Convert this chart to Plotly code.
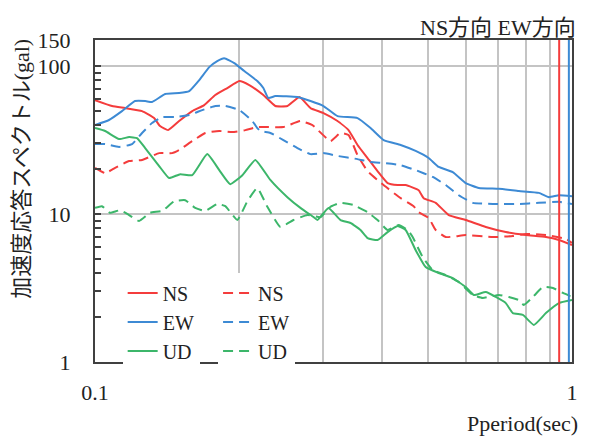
import math
import plotly.graph_objects as go

# ---------------- data ----------------
ns_period = [0.100, 0.1086, 0.1156, 0.1255, 0.1330, 0.1369, 0.1423, 0.1501, 0.1599, 0.1694,
             0.1787, 0.1894, 0.2007, 0.2106, 0.2254, 0.2388, 0.2531, 0.2683, 0.2830, 0.3013,
             0.3224, 0.3400, 0.3551, 0.3727, 0.3911, 0.4106, 0.4310, 0.4480, 0.4770, 0.4887,
             0.5179, 0.5515, 0.5989, 0.6596, 0.7265, 0.8004, 0.8817, 0.9391, 1.0]
ns_solid = [58.9, 53.7, 52.0, 49.6, 44.5, 39.3, 36.9, 42.5, 49.6, 54.5,
            63.7, 71.0, 79.2, 74.4, 63.7, 53.7, 53.7, 61.7, 52.0, 48.1,
            42.5, 36.9, 29.3, 23.9, 19.5, 16.2, 15.7, 15.7, 14.5, 12.8,
            11.9, 9.84, 9.11, 8.17, 7.55, 7.21, 6.99, 6.67, 6.17]

nsd_period = [0.100, 0.1050, 0.1102, 0.1179, 0.1255, 0.1363, 0.1451, 0.1501, 0.1599, 0.1703,
              0.1822, 0.1940, 0.2066, 0.2189, 0.2483, 0.2696, 0.2857, 0.3117, 0.3271, 0.3400,
              0.3551, 0.3727, 0.4027, 0.4373, 0.4656, 0.4770, 0.5006, 0.5179, 0.5436, 0.5989,
              0.6823, 0.7516, 0.8004, 0.8817, 0.9714, 1.0]
ns_dashed = [20.5, 18.9, 20.5, 22.8, 23.2, 25.8, 25.8, 27.1, 31.1, 35.3,
             36.4, 35.8, 36.9, 38.7, 38.7, 42.5, 39.9, 31.1, 35.3, 34.2,
             25.0, 19.5, 15.7, 12.8, 11.3, 10.3, 9.40, 7.80, 6.99, 7.21,
             6.99, 7.10, 7.33, 7.21, 6.78, 6.37]

ew_period = [0.100, 0.1070, 0.1139, 0.1213, 0.1274, 0.1317, 0.1403, 0.1501, 0.1576, 0.1654,
             0.1736, 0.1804, 0.1866, 0.1959, 0.2056, 0.2189, 0.2254, 0.2309, 0.2388, 0.2657,
             0.2830, 0.3013, 0.3224, 0.3551, 0.3782, 0.4027, 0.4373, 0.4701, 0.5006, 0.5255,
             0.5623, 0.5989, 0.6377, 0.7024, 0.7738, 0.8523, 0.8946, 0.9391, 1.0]
ew_solid = [39.9, 43.2, 49.6, 58.0, 58.0, 57.1, 64.7, 65.7, 67.8, 80.4,
            98.4, 108.1, 113.0, 104.8, 92.5, 79.2, 71.0, 60.8, 62.7, 61.7,
            58.0, 53.7, 45.9, 44.5, 38.1, 31.6, 29.3, 26.7, 23.9, 20.8,
            19.2, 16.2, 15.0, 14.8, 14.3, 13.9, 13.0, 13.4, 13.2]

ewd_period = [0.100, 0.1050, 0.1123, 0.1196, 0.1255, 0.1317, 0.1383, 0.1473, 0.1576, 0.1678,
              0.1787, 0.1876, 0.2007, 0.2137, 0.2189, 0.2222, 0.2331, 0.2483, 0.2657, 0.2830,
              0.3013, 0.3224, 0.3551, 0.3782, 0.4027, 0.4373, 0.4701, 0.5105, 0.5436, 0.5789,
              0.6194, 0.6823, 0.7738, 0.8523, 0.9391, 1.0]
ew_dashed = [29.7, 29.7, 28.4, 29.7, 35.3, 41.2, 45.2, 45.2, 46.7, 50.4,
             53.7, 53.7, 50.4, 42.5, 38.1, 36.4, 35.3, 31.6, 27.9, 25.4,
             25.8, 24.7, 23.5, 22.5, 22.1, 21.4, 19.8, 17.8, 15.7, 13.4,
             11.9, 11.7, 11.7, 11.9, 12.1, 11.7]

ud_period = [0.100, 0.1050, 0.1123, 0.1179, 0.1225, 0.1274, 0.1363, 0.1430, 0.1509, 0.1599,
             0.1719, 0.1822, 0.1921, 0.2037, 0.2168, 0.2331, 0.2531, 0.2696, 0.2871, 0.2927,
             0.3087, 0.3271, 0.3434, 0.3603, 0.3727, 0.3911, 0.4106, 0.4310, 0.4480, 0.4701,
             0.4934, 0.5255, 0.5623, 0.5989, 0.6224, 0.6596, 0.6922, 0.7265, 0.7516, 0.7889,
             0.8320, 0.8817, 0.9391, 1.0]
ud_solid = [38.1, 36.4, 32.1, 33.1, 32.6, 27.9, 21.1, 17.5, 18.6, 18.3,
            25.4, 19.8, 15.9, 18.3, 23.2, 17.0, 13.0, 11.0, 9.54, 9.11,
            11.0, 9.11, 8.70, 7.80, 6.88, 6.67, 7.55, 8.30, 7.80, 5.71,
            4.38, 3.99, 3.69, 3.21, 2.84, 2.97, 2.75, 2.50, 2.14, 2.08,
            1.78, 2.14, 2.50, 2.62]

udd_period = [0.100, 0.1034, 0.1075, 0.1128, 0.1179, 0.1237, 0.1305, 0.1383, 0.1466, 0.1546,
              0.1622, 0.1703, 0.1804, 0.1876, 0.1988, 0.2086, 0.2189, 0.2298, 0.2447, 0.2606,
              0.2789, 0.2970, 0.3117, 0.3271, 0.3483, 0.3727, 0.3911, 0.4106, 0.4331, 0.4524,
              0.4634, 0.4864, 0.5105, 0.5436, 0.5789, 0.6194, 0.6501, 0.7024, 0.7371, 0.7738,
              0.7927, 0.8280, 0.8690, 0.9122, 0.9575, 1.0]
ud_dashed = [11.0, 11.3, 10.2, 10.6, 9.84, 8.97, 10.2, 10.5, 12.2, 12.4,
             11.0, 10.5, 11.7, 11.3, 9.11, 12.2, 15.0, 11.2, 8.17, 9.11,
             9.84, 9.54, 11.2, 11.9, 11.5, 10.3, 9.11, 7.80, 8.43, 7.80,
             6.99, 5.12, 4.18, 3.87, 3.47, 2.84, 2.71, 2.84, 2.75, 2.62,
             2.43, 2.75, 3.21, 3.16, 2.93, 2.75]

ns_line_period = 0.94   # NS方向 marker period
ew_line_period = 0.985  # EW方向 marker period

x_tickvals = [0.1, 0.2, 0.3, 0.4, 0.5, 0.6, 0.7, 0.8, 0.9, 1.0]
x_ticktext = ["0.1", "", "", "", "", "", "", "", "", "1"]
y_tickvals = [1, 10, 100, 150]
y_ticktext = ["1", "10", "100", "150"]
y_minor = [2, 3, 4, 5, 6, 7, 8, 9, 20, 30, 40, 50, 60, 70, 80, 90]

RED = "#f43c3c"
BLUE = "#3d8ad4"
GREEN = "#3cb66a"
FONT = "Liberation Serif, Noto Sans CJK JP, serif"
DASH = "10px,6px"

fig = go.Figure()

series = [
    (ns_period, ns_solid, "NS", RED, "solid", "legend"),
    (ew_period, ew_solid, "EW", BLUE, "solid", "legend"),
    (ud_period, ud_solid, "UD", GREEN, "solid", "legend"),
    (nsd_period, ns_dashed, "NS", RED, DASH, "legend2"),
    (ewd_period, ew_dashed, "EW", BLUE, DASH, "legend2"),
    (udd_period, ud_dashed, "UD", GREEN, DASH, "legend2"),
]
for xs, ys, name, col, dash, leg in series:
    fig.add_trace(go.Scatter(x=xs, y=ys, name=name, mode="lines",
                             line=dict(color=col, width=2, dash=dash, shape="spline", smoothing=0.4),
                             legend=leg))

# vertical marker lines
fig.add_trace(go.Scatter(x=[ns_line_period, ns_line_period], y=[1, 150], mode="lines",
                         line=dict(color=RED, width=2), showlegend=False))
fig.add_trace(go.Scatter(x=[ew_line_period, ew_line_period], y=[1, 150], mode="lines",
                         line=dict(color=BLUE, width=2), showlegend=False))

axis_col = "#404040"
grid_col = "#c4c4c4"

fig.update_layout(
    width=590, height=437, autosize=False,
    margin=dict(l=95, r=18, t=40, b=75),
    paper_bgcolor="white", plot_bgcolor="white",
    font=dict(family=FONT, size=22, color="#222222"),
    xaxis=dict(type="log", range=[-1, 0], tickvals=x_tickvals, ticktext=x_ticktext,
               showgrid=True, gridcolor=grid_col, gridwidth=2,
               showline=True, mirror=True, linecolor=axis_col, linewidth=2,
               ticks="", ticklabelstandoff=10, zeroline=False,
               tickfont=dict(size=22)),
    yaxis=dict(type="log", range=[0, math.log10(150)], tickvals=y_tickvals, ticktext=y_ticktext,
               showgrid=True, gridcolor=grid_col, gridwidth=2,
               showline=True, mirror=True, linecolor=axis_col, linewidth=2,
               ticks="inside", ticklen=6, tickwidth=2, tickcolor=axis_col,
               minor=dict(tickvals=y_minor, ticks="inside", ticklen=6, tickwidth=2,
                          tickcolor=axis_col, showgrid=False),
               ticklabelstandoff=18, zeroline=False, tickfont=dict(size=22)),
    legend=dict(x=0.058, y=0.275, xanchor="left", yanchor="top", bgcolor="white",
                font=dict(size=20), tracegroupgap=0, itemwidth=30),
    legend2=dict(x=0.258, y=0.275, xanchor="left", yanchor="top", bgcolor="white",
                 font=dict(size=20), tracegroupgap=0, itemwidth=30),
    showlegend=True,
)

fig.add_annotation(text="加速度応答スペクトル(gal)", xref="paper", yref="paper",
                   x=-0.153, y=0.60, xanchor="center", yanchor="middle",
                   textangle=-90, showarrow=False, font=dict(size=22))
fig.add_annotation(text="Pperiod(sec)", xref="paper", yref="paper",
                   x=1.017, y=-0.192, xanchor="right", yanchor="middle",
                   showarrow=False, font=dict(size=22))
fig.add_annotation(text="NS方向 EW方向", xref="paper", yref="paper",
                   x=1.0126, y=1.04, xanchor="right", yanchor="middle",
                   showarrow=False, font=dict(size=22))

fig.write_html("out.html")
